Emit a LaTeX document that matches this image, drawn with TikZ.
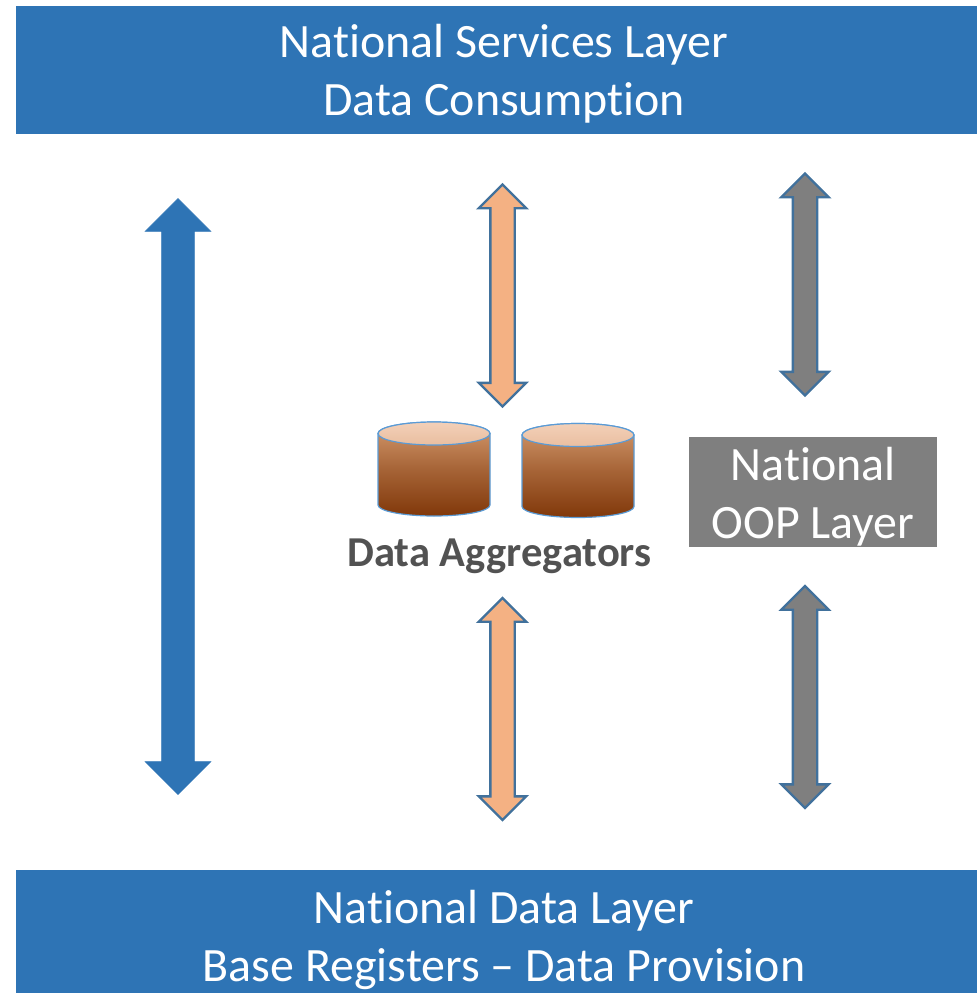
\documentclass[tikz,border=0pt]{standalone}
\usepackage{fontspec}
\setmainfont[RawFeature={-liga}]{Carlito}
\usetikzlibrary{shapes.arrows}
\definecolor{barblue}{HTML}{2E74B5}
\definecolor{edgeblue}{HTML}{41719C}
\definecolor{orangefill}{HTML}{F4B183}
\definecolor{grayfill}{HTML}{7F7F7F}
\definecolor{labelgray}{HTML}{525252}
\definecolor{cylline}{HTML}{5B9BD5}
\definecolor{cyltop}{HTML}{D69C70}
\definecolor{cylbot}{HTML}{7F3608}
\definecolor{lidtop}{HTML}{F3D0B8}
\definecolor{lidbot}{HTML}{E9BEA0}
\pgfdeclareverticalshading{drumshade}{100bp}{color(0bp)=(cylbot);color(24bp)=(cylbot);color(50bp)=(cylbot!55!cyltop);color(76bp)=(cyltop);color(100bp)=(cyltop)}
\tikzset{
  bigtext/.style={font=\fontsize{47.9}{58}\selectfont,align=center,inner sep=0pt},
  bar/.style={fill=barblue,inner sep=0pt,anchor=center},
  bartext/.style={bigtext,text=white},
  oop/.style={fill=grayfill,inner sep=0pt,minimum width=248pt,minimum height=110pt},
  darrow/.style={double arrow,rotate=90,inner sep=0pt,double arrow head indent=0pt,anchor=center,text depth=0pt},
  bigarrow/.style={darrow,fill=barblue,draw=barblue,line width=0.6pt,text height=32pt,double arrow head extend=16.5pt,minimum height=596pt},
  orangearrow/.style={darrow,fill=orangefill,draw=edgeblue,line width=2.4pt,text height=22pt,double arrow head extend=11.5pt,minimum height=222pt},
  grayarrow/.style={darrow,fill=grayfill,draw=edgeblue,line width=2.4pt,text height=22pt,double arrow head extend=11.5pt,minimum height=222pt},
  cylbody/.style={draw=cylline,line width=1.2pt,shading=drumshade},
  cyllid/.style={draw=cylline,line width=1.2pt,top color=lidtop,bottom color=lidbot},
}
\newcommand{\drum}[2]{%
  \path[cylbody] (#1-56,#2) -- (#1-56,#2-71.5) arc[start angle=180,end angle=360,x radius=56,y radius=11] -- (#1+56,#2) arc[start angle=0,end angle=180,x radius=56,y radius=11.5] -- cycle;
  \path[cyllid] (#1,#2) ellipse[x radius=56,y radius=11.5];
}
\begin{document}
\begin{tikzpicture}[x=1pt,y=1pt]
\useasboundingbox (0,0) rectangle (977,-993);
\node[bar,minimum width=961pt,minimum height=128pt] (services) at (496.5,-70) {};
\node[bartext] (servicestext) at (504,-74) {National Services Layer\\Data Consumption};
\node[bar,minimum width=961pt,minimum height=123pt] (data) at (496.5,-931.5) {};
\node[bartext] (datatext) at (504,-940) {National Data Layer\\Base Registers – Data Provision};
\node[oop] (oopbox) at (813,-492) {};
\node[bartext] (ooptext) at (813,-497) {National\\OOP Layer};
\node[bigarrow] (a1) at (178,-496.5) {};
\node[orangearrow] (a2) at (502.5,-295.5) {};
\node[orangearrow] (a3) at (502.5,-709) {};
\node[grayarrow] (a4) at (805,-284.5) {};
\node[grayarrow] (a5) at (805,-697) {};
\drum{434}{-433.5}
\drum{578}{-435}
\node[text=labelgray,font=\fontsize{42.6}{50}\selectfont\bfseries,inner sep=0pt] (agg) at (499.5,-556) {Data Aggregators};
\end{tikzpicture}
\end{document}
